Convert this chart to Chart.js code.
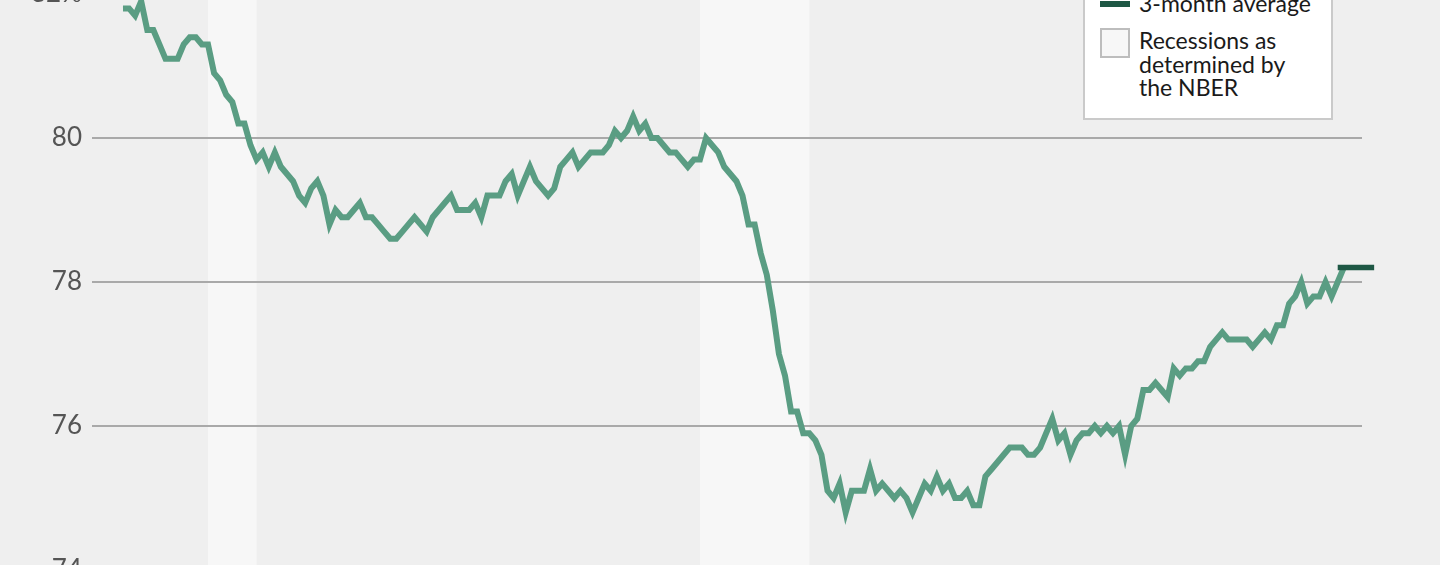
<!DOCTYPE html>
<html>
<head>
<meta charset="utf-8">
<script src="https://cdn.jsdelivr.net/npm/chart.js@4/dist/chart.umd.min.js"></script>
<style>
  html, body { margin: 0; padding: 0; background: #efefef; overflow: hidden; }
  #wrap { position: relative; width: 1440px; height: 565px; overflow: hidden; }
  #chart { position: absolute; left: 0; top: -70px; }
  #legend {
    position: absolute; left: 1083px; top: -40px; width: 250px; height: 160px;
    box-sizing: border-box; background: #fff; border: 2px solid #cacaca;
    font-family: Lato, sans-serif; font-size: 23px; color: #1a1a1a; line-height: 23.5px;
  }
  #legend .line { position: absolute; left: 15px; top: 39px; width: 30px; height: 6px; background: #1e5744; }
  #legend .box { position: absolute; left: 15px; top: 66px; width: 30px; height: 30px; box-sizing: border-box; background: #f7f7f7; border: 2px solid #bdbdbd; }
  #legend .txt { position: absolute; left: 54px; white-space: nowrap; }
</style>
</head>
<body>
<div id="wrap">
  <canvas id="chart" width="1440" height="700"></canvas>
  <div id="legend">
    <div class="line"></div>
    <div class="txt" style="top: 30px;">3-month average</div>
    <div class="box"></div>
    <div class="txt" style="top: 67px;">Recessions as<br>determined by<br>the NBER</div>
  </div>
</div>
<script>
// Monthly values, starting January 2000
const startYear = 2000;
const employmentRate = [
  81.8, 81.8, 81.7, 81.9, 81.5, 81.5, 81.3, 81.1, 81.1, 81.1, 81.3, 81.4,
  81.4, 81.3, 81.3, 80.9, 80.8, 80.6, 80.5, 80.2, 80.2, 79.9, 79.7, 79.8,
  79.6, 79.8, 79.6, 79.5, 79.4, 79.2, 79.1, 79.3, 79.4, 79.2, 78.8, 79.0,
  78.9, 78.9, 79.0, 79.1, 78.9, 78.9, 78.8, 78.7, 78.6, 78.6, 78.7, 78.8,
  78.9, 78.8, 78.7, 78.9, 79.0, 79.1, 79.2, 79.0, 79.0, 79.0, 79.1, 78.9,
  79.2, 79.2, 79.2, 79.4, 79.5, 79.2, 79.4, 79.6, 79.4, 79.3, 79.2, 79.3,
  79.6, 79.7, 79.8, 79.6, 79.7, 79.8, 79.8, 79.8, 79.9, 80.1, 80.0, 80.1,
  80.3, 80.1, 80.2, 80.0, 80.0, 79.9, 79.8, 79.8, 79.7, 79.6, 79.7, 79.7,
  80.0, 79.9, 79.8, 79.6, 79.5, 79.4, 79.2, 78.8, 78.8, 78.4, 78.1, 77.6,
  77.0, 76.7, 76.2, 76.2, 75.9, 75.9, 75.8, 75.6, 75.1, 75.0, 75.2, 74.8,
  75.1, 75.1, 75.1, 75.4, 75.1, 75.2, 75.1, 75.0, 75.1, 75.0, 74.8, 75.0,
  75.2, 75.1, 75.3, 75.1, 75.2, 75.0, 75.0, 75.1, 74.9, 74.9, 75.3, 75.4,
  75.5, 75.6, 75.7, 75.7, 75.7, 75.6, 75.6, 75.7, 75.9, 76.1, 75.8, 75.9,
  75.6, 75.8, 75.9, 75.9, 76.0, 75.9, 76.0, 75.9, 76.0, 75.6, 76.0, 76.1,
  76.5, 76.5, 76.6, 76.5, 76.4, 76.8, 76.7, 76.8, 76.8, 76.9, 76.9, 77.1,
  77.2, 77.3, 77.2, 77.2, 77.2, 77.2, 77.1, 77.2, 77.3, 77.2, 77.4, 77.4,
  77.7, 77.8, 78.0, 77.7, 77.8, 77.8, 78.0, 77.8, 78.0, 78.2
];
const averageValue = 78.2;
const averageSpan = ["2016-09", "2017-03"];
const recessions = [["2001-03", "2001-11"], ["2007-12", "2009-06"]];
const yTicks = [74, 76, 78, 80, 82];

function monthIndex(s) {
  const [y, m] = s.split("-").map(Number);
  return (y - startYear) * 12 + (m - 1);
}

// shaded recession bands, drawn under the grid
const recessionBands = {
  id: "recessionBands",
  beforeDraw(chart) {
    const ctx = chart.ctx;
    const x = chart.scales.x;
    ctx.save();
    ctx.fillStyle = "#f7f7f7";
    recessions.forEach(([a, b]) => {
      const x0 = x.getPixelForValue(monthIndex(a));
      const x1 = x.getPixelForValue(monthIndex(b));
      ctx.fillRect(x0, 0, x1 - x0, chart.height);
    });
    ctx.restore();
  }
};

new Chart(document.getElementById("chart"), {
  type: "line",
  data: {
    datasets: [{
      label: "3-month average",
      data: averageSpan.map(m => ({ x: monthIndex(m), y: averageValue })),
      borderColor: "#1e5744",
      borderWidth: 5.5,
      borderCapStyle: "butt",
      pointRadius: 0,
      clip: false,
      order: 0
    }, {
      label: "Employment rate",
      data: employmentRate.map((v, i) => ({ x: i, y: v })),
      borderColor: "#5a9d83",
      borderWidth: 6,
      pointRadius: 0,
      tension: 0,
      order: 1
    }]
  },
  options: {
    responsive: false,
    animation: false,
    devicePixelRatio: 1,
    layout: { padding: { top: 64, bottom: 60, left: 0, right: 78 } },
    plugins: { legend: { display: false }, tooltip: { enabled: false } },
    scales: {
      x: { type: "linear", min: -5.1, max: 204, display: false },
      y: {
        min: 74,
        max: 82,
        afterBuildTicks: s => { s.ticks = yTicks.map(v => ({ value: v })); },
        afterFit: s => { s.width = 92; },
        border: { display: false },
        grid: { color: "#a9a9a9", lineWidth: 2, drawTicks: false },
        ticks: {
          padding: 10,
          color: "#555",
          font: { family: "Lato", size: 26 },
          callback: v => v === 82 ? "82%" : v
        }
      }
    }
  },
  plugins: [recessionBands]
});
</script>
</body>
</html>
